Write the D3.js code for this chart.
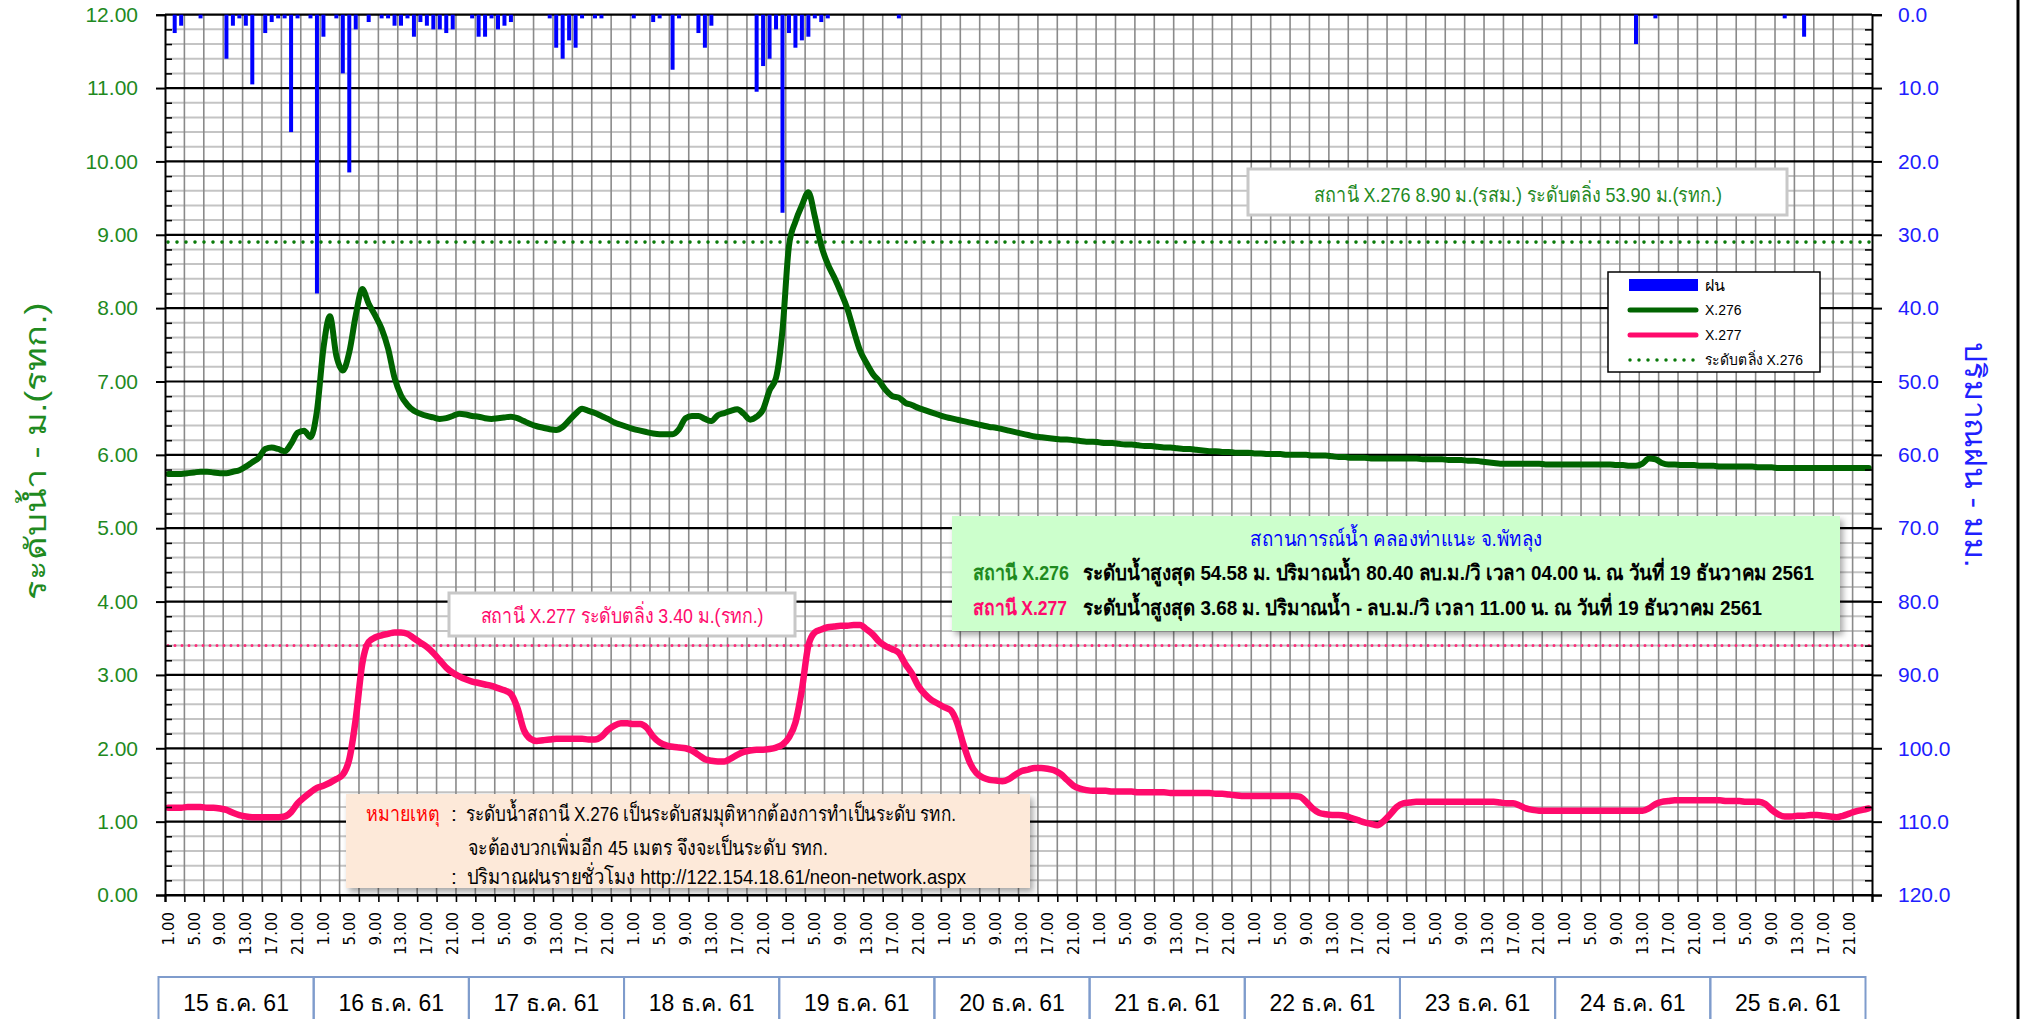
<!DOCTYPE html>
<html>
<head>
  <meta charset="utf-8">
  <script src="https://cdnjs.cloudflare.com/ajax/libs/d3/7.8.5/d3.min.js"></script>
  <style>
    body { margin: 0; padding: 0; background: #fff; overflow: hidden; }
    text { font-family: "Liberation Sans", Arial, sans-serif; }
    .lev text { fill: #1f8a1f; font-size: 21px; }
    .rn text { fill: #2020ff; font-size: 21px; }
    .hr { font-family: "DejaVu Sans", sans-serif; font-size: 15px; fill: #000; }
  </style>
</head>
<body>
<svg width="2022" height="1019"></svg>
<script>
// ---- data ----
const days = ["15 ธ.ค. 61", "16 ธ.ค. 61", "17 ธ.ค. 61", "18 ธ.ค. 61", "19 ธ.ค. 61", "20 ธ.ค. 61",
  "21 ธ.ค. 61", "22 ธ.ค. 61", "23 ธ.ค. 61", "24 ธ.ค. 61", "25 ธ.ค. 61"];
const hourLabels = ["1.00", "5.00", "9.00", "13.00", "17.00", "21.00"];
const levelTicks = [0, 1, 2, 3, 4, 5, 6, 7, 8, 9, 10, 11, 12];
const rainTicks = [0, 10, 20, 30, 40, 50, 60, 70, 80, 90, 100, 110, 120];

// hourly rain (mm), one row per day, hours 1..24
const rain = [
  [0, 2.5, 1.5, 0, 0, 0.5, 0, 0, 0, 6, 1.5, 0.5, 1.5, 9.5, 0, 2.5, 1, 0.5, 0.5, 16, 0.5, 0, 0.5, 38],
  [3, 0, 0.5, 8, 21.5, 2, 0, 1, 0, 0.5, 0.5, 1.5, 1.5, 0.5, 3, 1, 1.5, 2, 2, 2.5, 2, 0, 0, 0.5],
  [3, 3, 0.5, 2, 1.5, 1, 0, 0, 0, 0, 0, 0.5, 4.5, 6, 3.5, 4.5, 0.5, 0, 0.5, 0.5, 0, 0, 0, 0],
  [0.5, 0, 0, 1, 0.5, 0, 7.5, 0.5, 0, 0, 2.5, 4.5, 1.5, 0, 0, 0, 0, 0, 0, 10.5, 7, 6, 2, 27],
  [2.5, 4.5, 3.5, 3, 0.5, 1, 0.5, 0, 0, 0, 0, 0, 0, 0, 0, 0, 0, 0.5, 0, 0, 0, 0, 0, 0],
  [0, 0, 0, 0, 0, 0, 0, 0, 0, 0, 0, 0, 0, 0, 0, 0, 0, 0, 0, 0, 0, 0, 0, 0],
  [0, 0, 0, 0, 0, 0, 0, 0, 0, 0, 0, 0, 0, 0, 0, 0, 0, 0, 0, 0, 0, 0, 0, 0],
  [0, 0, 0, 0, 0, 0, 0, 0, 0, 0, 0, 0, 0, 0, 0, 0, 0, 0, 0, 0, 0, 0, 0, 0],
  [0, 0, 0, 0, 0, 0, 0, 0, 0, 0, 0, 0, 0, 0, 0, 0, 0, 0, 0, 0, 0, 0, 0, 0],
  [0, 0, 0, 0, 0, 0, 0, 0, 0, 0, 0, 4, 0, 0, 0.5, 0, 0, 0, 0, 0, 0, 0, 0, 0],
  [0, 0, 0, 0, 0, 0, 0, 0, 0, 0, 0.5, 0, 0, 3, 0, 0, 0, 0, 0, 0, 0, 0, 0, 0]
];

// water level X.276 (m), one row per day
const x276 = [
  [5.74, 5.74, 5.74, 5.75, 5.76, 5.77, 5.77, 5.76, 5.75, 5.75, 5.77, 5.79, 5.84, 5.90, 5.96, 6.08, 6.10, 6.08, 6.05, 6.15, 6.30, 6.33, 6.24, 6.60],
  [7.45, 7.89, 7.35, 7.15, 7.40, 7.90, 8.26, 8.06, 7.90, 7.72, 7.45, 7.05, 6.81, 6.68, 6.60, 6.56, 6.53, 6.51, 6.49, 6.50, 6.53, 6.56, 6.55, 6.53],
  [6.52, 6.50, 6.49, 6.50, 6.51, 6.52, 6.50, 6.46, 6.42, 6.39, 6.37, 6.35, 6.34, 6.38, 6.47, 6.56, 6.63, 6.60, 6.57, 6.53, 6.49, 6.44, 6.41, 6.38],
  [6.35, 6.33, 6.31, 6.29, 6.28, 6.28, 6.28, 6.35, 6.50, 6.53, 6.53, 6.49, 6.46, 6.54, 6.57, 6.60, 6.62, 6.56, 6.48, 6.52, 6.62, 6.88, 7.05, 7.70],
  [8.85, 9.18, 9.40, 9.58, 9.25, 8.85, 8.60, 8.42, 8.22, 8.00, 7.70, 7.42, 7.25, 7.10, 7.00, 6.88, 6.80, 6.78, 6.71, 6.68, 6.64, 6.61, 6.58, 6.55],
  [6.52, 6.50, 6.48, 6.46, 6.44, 6.42, 6.40, 6.38, 6.37, 6.35, 6.33, 6.31, 6.29, 6.27, 6.25, 6.24, 6.23, 6.22, 6.21, 6.21, 6.20, 6.19, 6.18, 6.18],
  [6.17, 6.16, 6.16, 6.15, 6.14, 6.14, 6.13, 6.12, 6.12, 6.11, 6.10, 6.10, 6.09, 6.08, 6.08, 6.07, 6.06, 6.05, 6.05, 6.04, 6.04, 6.03, 6.03, 6.03],
  [6.02, 6.02, 6.01, 6.01, 6.01, 6.00, 6.00, 6.00, 6.00, 5.99, 5.99, 5.99, 5.98, 5.97, 5.97, 5.96, 5.96, 5.96, 5.95, 5.95, 5.95, 5.95, 5.95, 5.95],
  [5.95, 5.95, 5.94, 5.94, 5.94, 5.94, 5.93, 5.93, 5.93, 5.92, 5.92, 5.91, 5.90, 5.89, 5.88, 5.88, 5.88, 5.88, 5.88, 5.88, 5.88, 5.87, 5.87, 5.87],
  [5.87, 5.87, 5.87, 5.87, 5.87, 5.87, 5.87, 5.87, 5.86, 5.86, 5.85, 5.85, 5.88, 5.95, 5.94, 5.89, 5.87, 5.87, 5.86, 5.86, 5.86, 5.85, 5.85, 5.85],
  [5.84, 5.84, 5.84, 5.84, 5.84, 5.84, 5.83, 5.83, 5.83, 5.82, 5.82, 5.82, 5.82, 5.82, 5.82, 5.82, 5.82, 5.82, 5.82, 5.82, 5.82, 5.82, 5.82, 5.82]
];

// water level X.277 (m), one row per day
const x277 = [
  [1.19, 1.19, 1.19, 1.20, 1.20, 1.20, 1.19, 1.19, 1.18, 1.16, 1.12, 1.09, 1.07, 1.06, 1.06, 1.06, 1.06, 1.06, 1.07, 1.13, 1.25, 1.33, 1.40, 1.46],
  [1.49, 1.53, 1.58, 1.64, 1.85, 2.40, 3.15, 3.45, 3.51, 3.54, 3.56, 3.58, 3.58, 3.56, 3.50, 3.44, 3.38, 3.30, 3.20, 3.10, 3.03, 2.98, 2.94, 2.91],
  [2.89, 2.87, 2.85, 2.82, 2.79, 2.74, 2.55, 2.25, 2.13, 2.10, 2.11, 2.12, 2.13, 2.13, 2.13, 2.13, 2.13, 2.12, 2.12, 2.16, 2.25, 2.31, 2.34, 2.34],
  [2.33, 2.33, 2.28, 2.16, 2.08, 2.04, 2.02, 2.01, 2.00, 1.97, 1.91, 1.85, 1.83, 1.82, 1.82, 1.86, 1.91, 1.95, 1.97, 1.98, 1.98, 1.99, 2.01, 2.05],
  [2.15, 2.35, 2.80, 3.40, 3.58, 3.62, 3.65, 3.66, 3.67, 3.67, 3.68, 3.68, 3.62, 3.55, 3.45, 3.39, 3.35, 3.30, 3.15, 3.02, 2.85, 2.74, 2.66, 2.61],
  [2.56, 2.52, 2.35, 2.05, 1.80, 1.66, 1.60, 1.57, 1.56, 1.55, 1.58, 1.64, 1.69, 1.71, 1.73, 1.73, 1.72, 1.70, 1.65, 1.57, 1.49, 1.45, 1.43, 1.42],
  [1.42, 1.42, 1.41, 1.41, 1.41, 1.41, 1.40, 1.40, 1.40, 1.40, 1.40, 1.39, 1.39, 1.39, 1.39, 1.39, 1.39, 1.39, 1.38, 1.38, 1.37, 1.36, 1.35, 1.35],
  [1.35, 1.35, 1.35, 1.35, 1.35, 1.35, 1.35, 1.34, 1.27, 1.18, 1.12, 1.10, 1.09, 1.09, 1.08, 1.05, 1.02, 0.99, 0.97, 0.95, 1.01, 1.10, 1.20, 1.25],
  [1.26, 1.27, 1.27, 1.27, 1.27, 1.27, 1.27, 1.27, 1.27, 1.27, 1.27, 1.27, 1.27, 1.27, 1.26, 1.25, 1.25, 1.22, 1.18, 1.16, 1.15, 1.15, 1.15, 1.15],
  [1.15, 1.15, 1.15, 1.15, 1.15, 1.15, 1.15, 1.15, 1.15, 1.15, 1.15, 1.15, 1.15, 1.18, 1.24, 1.27, 1.28, 1.29, 1.29, 1.29, 1.29, 1.29, 1.29, 1.29],
  [1.29, 1.28, 1.28, 1.28, 1.27, 1.27, 1.27, 1.24, 1.16, 1.10, 1.07, 1.07, 1.08, 1.08, 1.09, 1.09, 1.08, 1.07, 1.06, 1.08, 1.11, 1.14, 1.16, 1.18]
];

const bank276 = 8.90;   // ระดับตลิ่ง X.276
const bank277 = 3.40;   // ระดับตลิ่ง X.277

// ---- chart ----
const svg = d3.select("svg");
const green = "#006400", pink = "#ff0a6c", labelGreen = "#1f8a1f";

const rainH = rain.flat(), lv276 = x276.flat(), lv277 = x277.flat();
const nHours = rainH.length;

const x = d3.scaleLinear().domain([0, nHours]).range([165, 1872]);
const y = d3.scaleLinear().domain([0, 12]).range([895, 14.7]);
const yr = d3.scaleLinear().domain([0, 120]).range([14.7, 895]);

const defs = svg.append("defs");
const sh = defs.append("filter").attr("id", "shadow").attr("x", "-5%").attr("y", "-10%").attr("width", "115%").attr("height", "130%");
sh.append("feDropShadow").attr("dx", 3).attr("dy", 4).attr("stdDeviation", 3).attr("flood-color", "#000").attr("flood-opacity", 0.35);

const g = svg.append("g");

// minor horizontal grid (every 0.2 m)
const minorLev = d3.range(1, 60).map(k => k / 5).filter(v => Math.abs(v - Math.round(v)) > 1e-6);
g.selectAll(".hmin").data(minorLev).enter().append("line")
  .attr("x1", x(0)).attr("x2", x(nHours)).attr("y1", d => y(d)).attr("y2", d => y(d))
  .attr("stroke", "#c4c4c4").attr("stroke-width", 2);

// vertical grid every 3 hours
g.selectAll(".vg").data(d3.range(3, nHours, 3)).enter().append("line")
  .attr("x1", d => x(d)).attr("x2", d => x(d)).attr("y1", y(12)).attr("y2", y(0))
  .attr("stroke", "#8a8a8a").attr("stroke-width", 1.6);

// major horizontal grid
g.selectAll(".hmaj").data(levelTicks).enter().append("line")
  .attr("x1", x(0)).attr("x2", x(nHours)).attr("y1", d => y(d)).attr("y2", d => y(d))
  .attr("stroke", "#000").attr("stroke-width", 2.2);

// rain bars hanging from the top
const rainPts = rainH.map((v, i) => ({ i: i, v: v })).filter(d => d.v > 0);
g.selectAll(".bar").data(rainPts).enter().append("rect")
  .attr("x", d => x(d.i + 0.5) - 2).attr("y", yr(0)).attr("width", 4)
  .attr("height", d => yr(d.v) - yr(0)).attr("fill", "#0000ff");

// bank level dotted lines
g.append("line").attr("x1", x(0) + 3).attr("x2", x(nHours)).attr("y1", y(bank276)).attr("y2", y(bank276))
  .attr("stroke", "#0a7a0a").attr("stroke-width", 3.6).attr("stroke-dasharray", "0,9").attr("stroke-linecap", "round");
g.append("line").attr("x1", x(0) + 3).attr("x2", x(nHours)).attr("y1", y(bank277)).attr("y2", y(bank277))
  .attr("stroke", "#ff2a7a").attr("stroke-width", 3).attr("stroke-dasharray", "0,7").attr("stroke-linecap", "round");

// level lines
const line = d3.line().x((d, i) => x(i + 0.5)).y(d => y(d)).curve(d3.curveMonotoneX);
g.append("path").attr("d", line(lv276)).attr("fill", "none").attr("stroke", green)
  .attr("stroke-width", 6).attr("stroke-linejoin", "round").attr("stroke-linecap", "round");
g.append("path").attr("d", line(lv277)).attr("fill", "none").attr("stroke", pink)
  .attr("stroke-width", 6.5).attr("stroke-linejoin", "round").attr("stroke-linecap", "round");

// axes
const axL = svg.append("g").attr("class", "lev").attr("transform", "translate(" + x(0) + ",0)")
  .call(d3.axisLeft(y).tickValues(levelTicks).tickFormat(d => d.toFixed(2)).tickSize(9).tickPadding(18));
axL.select(".domain").attr("stroke-width", 2);
axL.selectAll("line").attr("stroke-width", 2);
axL.selectAll("text").style("font-family", "'Liberation Sans', Arial, sans-serif");
svg.append("g").attr("transform", "translate(" + x(0) + ",0)")
  .call(d3.axisLeft(y).tickValues(minorLev).tickFormat("").tickSize(-7))
  .call(s => s.select(".domain").remove()).selectAll("line").attr("stroke-width", 1.6);

const axR = svg.append("g").attr("class", "rn").attr("transform", "translate(" + x(nHours) + ",0)")
  .call(d3.axisRight(yr).tickValues(rainTicks).tickFormat(d => d.toFixed(1)).tickSize(10).tickPadding(16));
axR.select(".domain").attr("stroke-width", 2);
axR.selectAll("line").attr("stroke-width", 2);
svg.append("g").attr("transform", "translate(" + x(nHours) + ",0)")
  .call(d3.axisRight(yr).tickValues(d3.range(1, 60).map(k => k * 2).filter(v => v % 10)).tickFormat("").tickSize(-7))
  .call(s => s.select(".domain").remove()).selectAll("line").attr("stroke-width", 1.6);

const axB = svg.append("g").attr("transform", "translate(0," + y(0) + ")")
  .call(d3.axisBottom(x).tickValues(d3.range(0, nHours + 1, 3)).tickFormat("").tickSize(7));
axB.select(".domain").attr("stroke-width", 2.2);
axB.selectAll("line").attr("stroke-width", 1.6);

// hour labels (every 4 hours)
svg.selectAll(".hr").data(d3.range(0, nHours, 4)).enter().append("text")
  .attr("class", "hr")
  .attr("transform", d => "translate(" + x(d + 0.5) + ",912) rotate(-90)")
  .attr("dy", "0.36em").attr("text-anchor", "end")
  .text(d => hourLabels[(d % 24) / 4]);

// day boxes
const dayW = x(24) - x(0);
const dg = svg.selectAll(".day").data(days).enter().append("g");
dg.append("rect").attr("x", (d, i) => x(i * 24) - 6.5).attr("y", 977).attr("width", dayW).attr("height", 60)
  .attr("fill", "none").attr("stroke", "#7f9ccc").attr("stroke-width", 2);
dg.append("text").attr("x", (d, i) => x(i * 24) - 6.5 + dayW / 2).attr("y", 1011)
  .attr("text-anchor", "middle").style("font-size", "23px").attr("fill", "#000").text(d => d);

// axis titles
svg.append("text").attr("transform", "translate(36,451) rotate(-90)").attr("text-anchor", "middle")
  .attr("dy", "0.35em").attr("fill", labelGreen).style("font-size", "29px")
  .attr("textLength", 297).attr("lengthAdjust", "spacingAndGlyphs").text("ระดับน้ำ  -  ม.(รทก.)");
svg.append("text").attr("transform", "translate(1975,455) rotate(90)").attr("text-anchor", "middle")
  .attr("dy", "0.35em").attr("fill", "#2020ff").style("font-size", "29px")
  .attr("textLength", 225).attr("lengthAdjust", "spacingAndGlyphs").text("ปริมาณฝน  -  มม.");

// right frame line
svg.append("line").attr("x1", 2018).attr("x2", 2018).attr("y1", 0).attr("y2", 1019)
  .attr("stroke", "#000").attr("stroke-width", 3);

// helper for fitted text
function label(sel, px, py, str, opt) {
  const t = sel.append("text").attr("x", px).attr("y", py).text(str)
    .attr("fill", opt.fill || "#000").style("font-size", (opt.size || 19) + "px")
    .attr("text-anchor", opt.anchor || "start");
  if (opt.bold) t.style("font-weight", "bold");
  if (opt.len) t.attr("textLength", opt.len).attr("lengthAdjust", "spacingAndGlyphs");
  return t;
}

// bank level notes
svg.append("rect").attr("x", 1248).attr("y", 169).attr("width", 539).attr("height", 46)
  .attr("fill", "#fff").attr("stroke", "#c8c8c8").attr("stroke-width", 3);
label(svg, 1518, 202, "สถานี X.276  8.90 ม.(รสม.) ระดับตลิ่ง 53.90 ม.(รทก.)", { fill: labelGreen, size: 21, anchor: "middle", len: 408 });

svg.append("rect").attr("x", 449).attr("y", 593).attr("width", 346).attr("height", 43)
  .attr("fill", "#fff").attr("stroke", "#c8c8c8").attr("stroke-width", 3);
label(svg, 622, 623, "สถานี X.277 ระดับตลิ่ง 3.40 ม.(รทก.)", { fill: pink, size: 21, anchor: "middle", len: 283 });

// legend
const lg = svg.append("g");
lg.append("rect").attr("x", 1608).attr("y", 272).attr("width", 212).attr("height", 100)
  .attr("fill", "#fff").attr("stroke", "#000").attr("stroke-width", 1.5);
lg.append("rect").attr("x", 1629).attr("y", 279).attr("width", 69).attr("height", 12).attr("fill", "#0000ff");
lg.append("line").attr("x1", 1630).attr("x2", 1696).attr("y1", 310).attr("y2", 310)
  .attr("stroke", green).attr("stroke-width", 5).attr("stroke-linecap", "round");
lg.append("line").attr("x1", 1630).attr("x2", 1696).attr("y1", 335).attr("y2", 335)
  .attr("stroke", pink).attr("stroke-width", 5).attr("stroke-linecap", "round");
lg.append("line").attr("x1", 1630).attr("x2", 1698).attr("y1", 360).attr("y2", 360)
  .attr("stroke", "#0a7a0a").attr("stroke-width", 3.5).attr("stroke-dasharray", "0,9").attr("stroke-linecap", "round");
label(lg, 1705, 291, "ฝน", { size: 16 });
label(lg, 1705, 315, "X.276", { size: 14 });
label(lg, 1705, 340, "X.277", { size: 14 });
label(lg, 1705, 365, "ระดับตลิ่ง X.276", { size: 15, len: 98 });

// situation box
const ib = svg.append("g");
ib.append("rect").attr("x", 952).attr("y", 516).attr("width", 888).attr("height", 115)
  .attr("fill", "#ccffcc").attr("filter", "url(#shadow)");
label(ib, 1396, 546, "สถานการณ์น้ำ คลองท่าแนะ จ.พัทลุง", { fill: "#0000ff", size: 21, anchor: "middle", len: 292 });
label(ib, 973, 580, "สถานี X.276", { fill: labelGreen, size: 21, bold: true, len: 96 });
label(ib, 1083, 580, "ระดับน้ำสูงสุด  54.58 ม. ปริมาณน้ำ 80.40  ลบ.ม./วิ  เวลา 04.00 น. ณ วันที่ 19 ธันวาคม  2561", { size: 21, bold: true, len: 731 });
label(ib, 973, 615, "สถานี X.277", { fill: pink, size: 21, bold: true, len: 94 });
label(ib, 1083, 615, "ระดับน้ำสูงสุด 3.68 ม. ปริมาณน้ำ -  ลบ.ม./วิ  เวลา 11.00 น. ณ วันที่ 19 ธันวาคม  2561", { size: 21, bold: true, len: 679 });

// remark box
const nb = svg.append("g");
nb.append("rect").attr("x", 346).attr("y", 794).attr("width", 684).attr("height", 94)
  .attr("fill", "#fde9d9").attr("filter", "url(#shadow)");
label(nb, 366, 821, "หมายเหตุ", { fill: "#ff0000", size: 21, len: 74 });
label(nb, 451, 821, ":", { size: 21 });
label(nb, 466, 821, "ระดับน้ำสถานี X.276 เป็นระดับสมมุติหากต้องการทำเป็นระดับ รทก.", { size: 21, len: 490 });
label(nb, 468, 855, "จะต้องบวกเพิ่มอีก 45 เมตร จึงจะเป็นระดับ รทก.", { size: 21, len: 360 });
label(nb, 451, 884, ":", { size: 21 });
label(nb, 467, 884, "ปริมาณฝนรายชั่วโมง http://122.154.18.61/neon-network.aspx", { size: 21, len: 499 });
</script>
</body>
</html>
